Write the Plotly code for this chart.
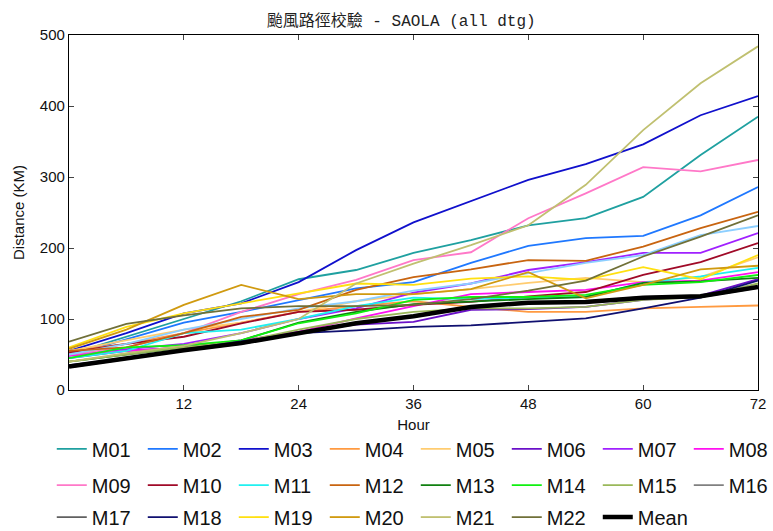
import plotly.graph_objects as go

hours = [0, 6, 12, 18, 24, 30, 36, 42, 48, 54, 60, 66, 72]
x_ticks = [12, 24, 36, 48, 60, 72]
y_ticks = [0, 100, 200, 300, 400, 500]

M01 = [50, 75, 100, 125, 156, 169, 193, 211, 232, 242, 272, 331, 385]
M02 = [48, 72, 95, 110, 127, 143, 152, 179, 203, 214, 217, 246, 286]
M03 = [55, 80, 108, 122, 152, 197, 236, 266, 296, 318, 346, 387, 414]
M04 = [55, 65, 80, 95, 110, 118, 125, 117, 110, 110, 115, 117, 119]
M05 = [55, 70, 85, 95, 110, 125, 135, 142, 151, 158, 152, 159, 187]
M06 = [45, 55, 60, 68, 82, 92, 96, 113, 114, 117, 127, 133, 156]
M07 = [50, 58, 65, 80, 100, 115, 137, 150, 169, 180, 193, 193, 221]
M08 = [48, 55, 60, 70, 82, 101, 118, 135, 138, 141, 152, 154, 166]
M09 = [50, 60, 80, 110, 135, 155, 183, 194, 242, 277, 314, 308, 324]
M10 = [53, 65, 75, 94, 110, 113, 120, 124, 132, 138, 162, 180, 207]
M11 = [45, 55, 80, 85, 100, 118, 130, 128, 130, 131, 151, 160, 172]
M11b = [50, 65, 85, 100, 115, 125, 140, 150, 165, 179, 190, 218, 231]
M12 = [55, 60, 80, 103, 113, 141, 159, 170, 183, 182, 202, 228, 251]
M13 = [40, 50, 60, 70, 95, 110, 121, 125, 128, 131, 151, 153, 158]
M14 = [45, 60, 63, 70, 94, 108, 127, 131, 131, 134, 148, 152, 162]
M15 = [40, 50, 60, 68, 85, 100, 110, 115, 115, 117, 127, 131, 150]
M16 = [34, 46, 57, 67, 81, 95, 105, 118, 124, 125, 131, 133, 146]
M17 = [32, 44, 55, 65, 79, 93, 103, 116, 122, 123, 129, 131, 144]
M18 = [35, 45, 57, 68, 80, 84, 89, 91, 96, 101, 115, 130, 154]
M19 = [60, 89, 108, 122, 135, 150, 148, 157, 160, 155, 173, 156, 190]
M20 = [58, 85, 120, 148, 128, 135, 135, 142, 166, 129, 148, 170, 175]
M21 = [40, 52, 62, 80, 100, 150, 178, 204, 232, 289, 366, 432, 484]
M22 = [68, 93, 105, 115, 118, 118, 120, 128, 140, 154, 188, 216, 246]
Mean = [33, 45, 56, 66, 80, 94, 104, 117, 123, 124, 130, 132, 145]

series = [
    ("M01", M01, "#1FA0A0"), ("M02", M02, "#1F78FF"), ("M03", M03, "#1010CC"),
    ("M04", M04, "#FF9A40"), ("M05", M05, "#FFCC70"), ("M06", M06, "#6A10C8"),
    ("M07", M07, "#A020FF"), ("M08", M08, "#FF10F0"), ("M09", M09, "#FF78C8"),
    ("M10", M10, "#A00A28"), ("M11", M11, "#20F0F0"), ("M12", M12, "#C86410"),
    ("M13", M13, "#108010"), ("M14", M14, "#10F010"), ("M15", M15, "#9AB85A"),
    ("M16", M16, "#808080"), ("M17", M17, "#606060"), ("M18", M18, "#101070"),
    ("M19", M19, "#FFE010"), ("M20", M20, "#D09A10"), ("M21", M21, "#C0C070"),
    ("M22", M22, "#707038"),
]

fig = go.Figure()
for i, (name, vals, col) in enumerate(series):
    lg = "legend" if i < 8 else ("legend2" if i < 16 else "legend3")
    fig.add_trace(go.Scatter(x=hours, y=vals, mode="lines", name=name,
                             line=dict(color=col, width=1.8), legend=lg))
    if name == "M11":
        fig.add_trace(go.Scatter(x=hours, y=M11b, mode="lines", name="M11",
                                 line=dict(color="#8CCFFF", width=1.8),
                                 showlegend=False))
fig.add_trace(go.Scatter(x=hours, y=Mean, mode="lines", name="Mean",
                         line=dict(color="black", width=4.5), legend="legend3"))

leg_common = dict(orientation="h", xanchor="left", yanchor="middle",
                  font=dict(family="Liberation Sans, Arial", size=20, color="#111"),
                  entrywidth=46, entrywidthmode="pixels",
                  bgcolor="rgba(0,0,0,0)", itemwidth=30)

fig.update_layout(
    width=773, height=531,
    margin=dict(l=69, r=15, t=35, b=141, autoexpand=False),
    paper_bgcolor="white", plot_bgcolor="white",
    title=dict(text="颱風路徑校驗 - SAOLA (all dtg)", x=0.519, xanchor="center",
               y=0.962, yanchor="middle",
               font=dict(family="Liberation Mono, Noto Sans CJK TC", size=16, color="#222")),
    xaxis=dict(range=[0, 72], tickvals=x_ticks, ticks="inside", ticklen=5,
               showline=True, linecolor="black", linewidth=1.2, mirror="ticks",
               showgrid=False, zeroline=False,
               tickfont=dict(family="Liberation Sans, Arial", size=15, color="#111"),
               title=dict(text="Hour", standoff=8,
                          font=dict(family="Liberation Sans, Arial", size=15, color="#111"))),
    yaxis=dict(range=[0, 500], tickvals=y_ticks, ticks="inside", ticklen=5,
               showline=True, linecolor="black", linewidth=1.2, mirror="ticks",
               showgrid=False, zeroline=False,
               tickfont=dict(family="Liberation Sans, Arial", size=15, color="#111"),
               title=dict(text="Distance (KM)", standoff=11,
                          font=dict(family="Liberation Sans, Arial", size=15, color="#111"))),
    legend=dict(x=-0.025, y=-0.166, **leg_common),
    legend2=dict(x=-0.025, y=-0.268, **leg_common),
    legend3=dict(x=-0.025, y=-0.358, **leg_common),
)

fig.write_html("out.html")
